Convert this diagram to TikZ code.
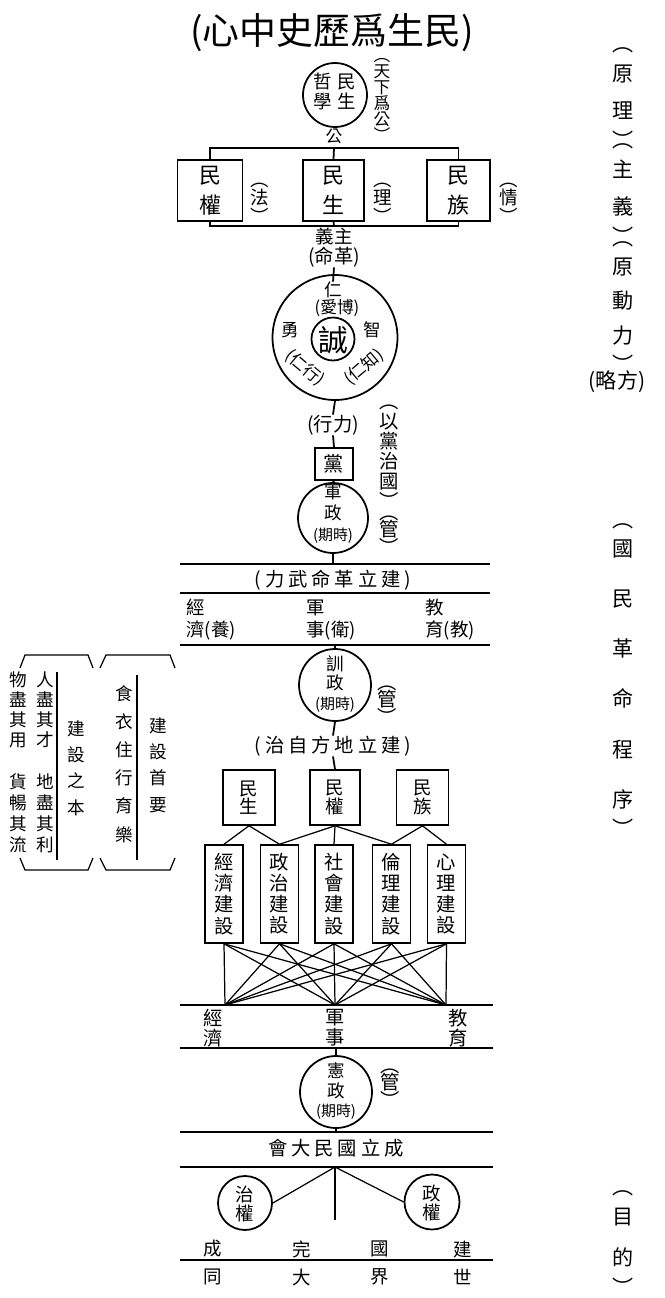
\documentclass[tikz,border=0pt]{standalone}
\usepackage{fontspec}
\newfontfamily\cjk{Noto Sans CJK TC}
\newfontfamily\cjksp[LetterSpace=20]{Noto Sans CJK TC}
\usepackage{tikz}
\newcommand{\fsz}[2]{\fontsize{#1}{#2}\selectfont\lineskiplimit=-\maxdimen}

\begin{document}
\begin{tikzpicture}[x=0.02cm,y=-0.02cm,
    txt/.style={inner sep=0pt,align=center},
    sz/.style 2 args={font=\cjk\fsz{#1}{#2}},
    spz/.style 2 args={font=\cjksp\fsz{#1}{#2}},
    box/.style={draw,line width=0.9pt,inner sep=0pt,align=center},
    ring/.style={draw,circle,line width=1pt,inner sep=0pt},
    ln/.style={line width=1pt},
    thin/.style={line width=0.7pt}]
\useasboundingbox (0,0) rectangle (665,1298);

\node[txt,sz={21pt}{22pt}] (title) at (332,33) {(心中史歷爲生民)};

\node[ring,minimum size=1.28cm] (zhexue) at (335,95) {};
\node[txt,sz={10.5pt}{11.4pt}] (zhexuet) at (335,91) {哲\hspace{3pt}民\\學\hspace{3pt}生};
\node[txt,sz={9.5pt}{9.5pt}] (gong) at (334,136) {公};
\node[txt,sz={9.5pt}{9.1pt}] (tianxia) at (382,100) {︵\\天\\下\\爲\\公\\︶};

\node[box,minimum width=1.3cm,minimum height=1.22cm,sz={12.5pt}{17pt}] (quan) at (210,190.5) {民\\權};
\node[box,minimum width=1.22cm,minimum height=1.22cm,sz={12.5pt}{17pt}] (sheng) at (333.5,190.5) {民\\生};
\node[box,minimum width=1.26cm,minimum height=1.22cm,sz={12.5pt}{17pt}] (zu) at (458.5,190.5) {民\\族};
\coordinate (top1) at (334,148);
\coordinate (bot1) at (334,226);
\draw[ln] (quan.north) |- (top1) -| (zu.north);
\draw[ln] (top1) -- (sheng.north);
\draw[ln] (quan.south) |- (bot1) -| (zu.south);
\draw[ln] (sheng.south) -- (bot1);
\node[txt,sz={10.5pt}{10.5pt}] (fa) at (260,203) {︵\\法\\︶};
\node[txt,sz={10.5pt}{10.5pt}] (li) at (383,203) {︵\\理\\︶};
\node[txt,sz={10.5pt}{10.5pt}] (qing) at (509,203) {︵\\情\\︶};

\node[txt,sz={10.5pt}{11pt}] (zhuyi) at (334,236) {義主};
\node[txt,sz={11pt}{11pt}] (geming) at (334,257) {(命革)};

\node[ring,minimum size=2.5cm] (renring) at (335,337.5) {};
\node[ring,minimum size=0.86cm] (cheng) at (333,339) {};
\node[txt,sz={17pt}{17pt}] (chengt) at (333,340) {誠};
\node[txt,sz={10pt}{10pt}] (ren) at (333,290) {仁};
\node[txt,sz={9.5pt}{9.5pt}] (boai) at (337,308) {(愛博)};
\node[txt,sz={10pt}{10pt}] (yong) at (290,330) {勇};
\node[txt,sz={10pt}{10pt}] (zhi) at (372,330) {智};
\node[txt,sz={9.5pt}{9.5pt},rotate=-40] (renxing) at (305,368) {(仁行)};
\node[txt,sz={9.5pt}{9.5pt},rotate=40] (renzhi) at (364,367) {(仁知)};
\draw[ln] (geming.south) -- (ren.north);

\node[txt,sz={11pt}{11pt}] (xingli) at (333,425) {(行力)};
\draw[ln] (renring.south) -- (xingli.north);
\node[box,minimum width=0.76cm,minimum height=0.64cm,sz={11.5pt}{11.5pt}] (dang) at (334,464) {黨};
\node[ring,minimum size=1.4cm] (junzheng) at (333,518) {};
\node[txt,sz={10pt}{11.7pt}] (junzhengt) at (333,514) {軍\\政\\{\fsz{8.5pt}{11.7pt}(期時)}};
\draw[ln] (xingli.south) -- (dang.north);
\draw[ln] (dang.south) -- (junzheng.north);
\node[txt,sz={11pt}{11.4pt}] (yidang) at (389,457) {︵\\以\\黨\\治\\國\\︶};
\node[txt,sz={11pt}{10pt}] (guan1) at (389,535) {︵\\管\\︶};

\coordinate (l1w) at (180,564); \coordinate (l1e) at (490,564);
\coordinate (l2w) at (180,593); \coordinate (l2e) at (490,593);
\coordinate (l3w) at (180,645); \coordinate (l3e) at (490,645);
\draw[ln] (l1w) -- (l1e);
\draw[ln] (l2w) -- (l2e);
\draw[ln] (l3w) -- (l3e);
\draw[ln] (junzheng.south) -- (junzheng.south |- l1w);
\node[txt,spz={11pt}{11pt}] (jianli1) at (333,580) {(力武命革立建)};
\node[txt,sz={10.5pt}{12.5pt},align=left,anchor=west] (jingji1) at (186,620) {經\\濟(養)};
\node[txt,sz={10.5pt}{12.5pt},align=left,anchor=west] (junshi1) at (306,620) {軍\\事(衛)};
\node[txt,sz={10.5pt}{12.5pt},align=left,anchor=west] (jiaoyu1) at (425,620) {教\\育(教)};

\node[ring,minimum size=1.44cm] (xunzheng) at (335,685) {};
\node[txt,sz={10pt}{11pt}] (xunzhengt) at (335,684) {訓\\政\\{\fsz{8.5pt}{11pt}(期時)}};
\draw[ln] (xunzheng.north |- l3w) -- (xunzheng.north);
\node[txt,sz={11pt}{10pt}] (guan2) at (387,705) {︵\\管\\︶};
\node[txt,spz={11pt}{11pt}] (jianli2) at (333,746) {(治自方地立建)};
\draw[ln] (xunzheng.south) -- (jianli2.north);

\node[box,minimum width=1.04cm,minimum height=1.1cm,sz={10.5pt}{10.5pt}] (sheng2) at (249,797.5) {民\\生};
\node[box,minimum width=1.0cm,minimum height=1.1cm,sz={10.5pt}{10.5pt}] (quan2) at (335,797.5) {民\\權};
\node[box,minimum width=1.04cm,minimum height=1.1cm,sz={10.5pt}{10.5pt}] (zu2) at (422.5,797.5) {民\\族};
\draw[ln] (jianli2.south) -- (quan2.north);

\node[box,minimum width=0.76cm,minimum height=1.96cm,sz={11pt}{12pt}] (jingji) at (224,894) {經\\濟\\建\\設};
\node[box,minimum width=0.76cm,minimum height=1.96cm,sz={11pt}{12pt}] (zhengzhi) at (279.5,894) {政\\治\\建\\設};
\node[box,minimum width=0.76cm,minimum height=1.96cm,sz={11pt}{12pt}] (shehui) at (334,894) {社\\會\\建\\設};
\node[box,minimum width=0.76cm,minimum height=1.96cm,sz={11pt}{12pt}] (lunli) at (391.5,894) {倫\\理\\建\\設};
\node[box,minimum width=0.76cm,minimum height=1.96cm,sz={11pt}{12pt}] (xinli) at (446.5,894) {心\\理\\建\\設};
\draw[thin] (sheng2.south) -- (jingji.north);
\draw[thin] (sheng2.south) -- (zhengzhi.north);
\draw[thin] (quan2.south) -- (zhengzhi.north);
\draw[thin] (quan2.south) -- (shehui.north);
\draw[thin] (quan2.south) -- (lunli.north);
\draw[thin] (zu2.south) -- (lunli.north);
\draw[thin] (zu2.south) -- (xinli.north);

\coordinate (p1) at (225,1005); \coordinate (p2) at (335,1005); \coordinate (p3) at (446,1005);
\foreach \b in {jingji,zhengzhi,shehui,lunli,xinli}
  \foreach \p in {p1,p2,p3}
    \draw[thin] (\b.south) -- (\p);
\coordinate (l4w) at (180,1005); \coordinate (l4e) at (493,1005);
\coordinate (l5w) at (180,1048); \coordinate (l5e) at (493,1048);
\draw[ln] (l4w) -- (l4e);
\draw[ln] (l5w) -- (l5e);
\node[txt,sz={11pt}{11.4pt}] (jingji2) at (213,1028) {經\\濟};
\node[txt,sz={11pt}{11.4pt}] (junshi2) at (335,1028) {軍\\事};
\node[txt,sz={11pt}{11.4pt}] (jiaoyu2) at (458,1028) {教\\育};

\node[ring,minimum size=1.44cm] (xianzheng) at (336,1092) {};
\node[txt,sz={10pt}{11pt}] (xianzhengt) at (336,1091) {憲\\政\\{\fsz{8.5pt}{11pt}(期時)}};
\draw[ln] (xianzheng.north |- l5w) -- (xianzheng.north);
\node[txt,sz={11pt}{10pt}] (guan3) at (390,1088) {︵\\管\\︶};
\coordinate (l6w) at (180,1132); \coordinate (l6e) at (493,1132);
\draw[ln] (l6w) -- (l6e);
\draw[ln] (xianzheng.south) -- (xianzheng.south |- l6w);
\node[txt,spz={11pt}{11pt}] (guohui) at (336,1148) {會大民國立成};

\coordinate (l7w) at (180,1167); \coordinate (l7e) at (493,1167);
\coordinate (c7) at (335,1167); \coordinate (c7d) at (335,1220);
\draw[ln] (l7w) -- (l7e);
\node[ring,minimum size=1.08cm] (zhiquan) at (245,1203) {};
\node[ring,minimum size=1.1cm] (zhengquan) at (432,1202) {};
\node[txt,sz={10.5pt}{10.5pt}] (zhiquant) at (245,1204) {治\\權};
\node[txt,sz={10.5pt}{10.5pt}] (zhengquant) at (432,1203) {政\\權};
\draw[thin] (c7) -- (zhiquan.east);
\draw[thin] (c7) -- (zhengquan.west);
\draw[thin] (c7) -- (c7d);

\node[txt,sz={10.5pt}{10.5pt}] (w1) at (213,1249) {成};
\node[txt,sz={10.5pt}{10.5pt}] (w2) at (302,1249) {完};
\node[txt,sz={10.5pt}{10.5pt}] (w3) at (380,1249) {國};
\node[txt,sz={10.5pt}{10.5pt}] (w4) at (463,1249) {建};
\coordinate (l8w) at (180,1260); \coordinate (l8e) at (493,1260);
\draw[ln] (l8w) -- (l8e);
\node[txt,sz={10.5pt}{10.5pt}] (u1) at (213,1277) {同};
\node[txt,sz={10.5pt}{10.5pt}] (u2) at (302,1277) {大};
\node[txt,sz={10.5pt}{10.5pt}] (u3) at (380,1277) {界};
\node[txt,sz={10.5pt}{10.5pt}] (u4) at (463,1277) {世};

\node[txt,sz={10pt}{11.4pt}] (renjin) at (45,710) {人\\盡\\其\\才};
\node[txt,sz={10pt}{11.4pt}] (wujin) at (18,710) {物\\盡\\其\\用};
\node[txt,sz={10pt}{12pt}] (dijin) at (45,813) {地\\盡\\其\\利};
\node[txt,sz={10pt}{12pt}] (huochang) at (18,813) {貨\\暢\\其\\流};
\node[txt,sz={10pt}{15pt}] (zhiben) at (76,768) {建\\設\\之\\本};
\node[txt,sz={10pt}{16pt}] (shiyi) at (124,764) {食\\衣\\住\\行\\育\\樂};
\node[txt,sz={10pt}{15pt}] (shouyao) at (158,765) {建\\設\\首\\要};
\coordinate (v1t) at (57,672); \coordinate (v1b) at (57,860);
\coordinate (v2t) at (137,675); \coordinate (v2b) at (137,860);
\draw[ln] (v1t) -- (v1b);
\draw[ln] (v2t) -- (v2b);
\draw[thin] (20,668) -- (25,655) -- (88,655) -- (93,668);
\draw[thin] (100,668) -- (106,655) -- (170,655) -- (175,668);
\draw[thin] (20,858) -- (25,870) -- (88,870) -- (93,858);
\draw[thin] (100,858) -- (106,870) -- (170,870) -- (175,858);

\node[txt,sz={12pt}{21pt}] (yuanli) at (623,98) {︵\\[-4pt]原\\理\\[-4pt]︶};
\node[txt,sz={12pt}{21pt}] (zhuyi2) at (623,194) {︵\\[-4pt]主\\義\\[-4pt]︶};
\node[txt,sz={12pt}{19.5pt}] (yuandong) at (623,307) {︵\\[-3pt]原\\動\\力\\[-3pt]︶};
\node[txt,sz={12pt}{12pt}] (fanglue) at (617,382) {(略方)};
\node[txt,sz={12pt}{28.5pt}] (chengxu) at (623,680) {︵\\[-12pt]國\\民\\革\\命\\程\\序\\[-12pt]︶};
\node[txt,sz={12pt}{23pt}] (mudi) at (623,1243) {︵\\[-6pt]目\\的\\[-6pt]︶};
\end{tikzpicture}
\end{document}
